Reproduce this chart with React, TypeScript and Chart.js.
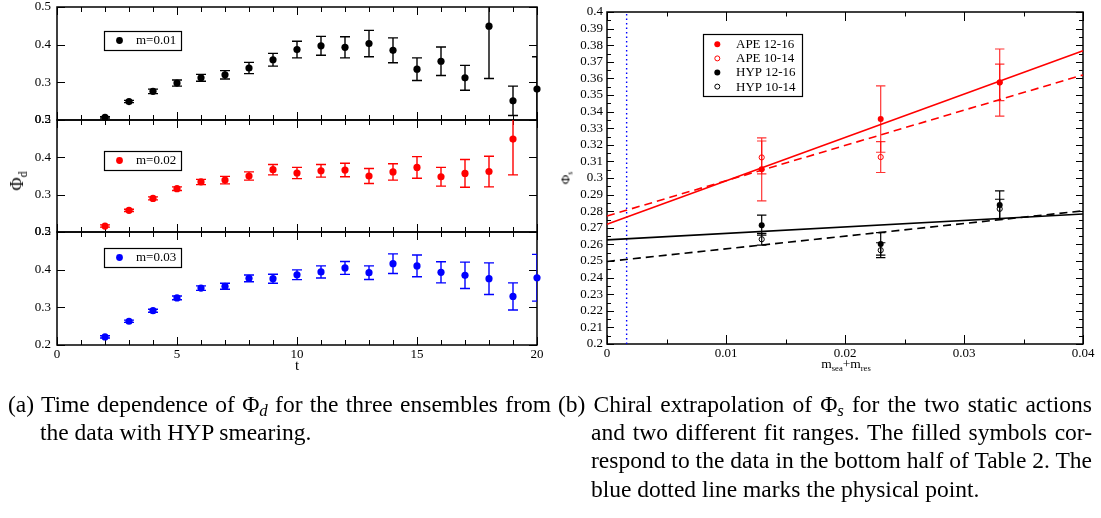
import React, { useEffect, useRef } from "react";
import { Chart, registerables } from "chart.js";

Chart.register(...registerables);

const SERIF = '"Liberation Serif", "Times New Roman", Times, serif';

// ---------------- panel (a): Phi_d vs t ----------------
const T_VALUES = [2, 3, 4, 5, 6, 7, 8, 9, 10, 11, 12, 13, 14, 15, 16, 17, 18, 19, 20];
const PHI_M001 = [0.207, 0.249, 0.276, 0.298, 0.312, 0.32, 0.338, 0.36, 0.387, 0.397, 0.393, 0.403, 0.385, 0.335, 0.356, 0.312, 0.449, 0.251, 0.282];
const ERR_M001 = [0.002, 0.003, 0.006, 0.008, 0.009, 0.011, 0.015, 0.017, 0.022, 0.025, 0.028, 0.035, 0.033, 0.03, 0.038, 0.033, 0.139, 0.039, 0.086];
const PHI_M002 = [0.216, 0.258, 0.29, 0.316, 0.334, 0.339, 0.35, 0.367, 0.358, 0.364, 0.366, 0.35, 0.361, 0.373, 0.348, 0.357, 0.362, 0.449, null];
const ERR_M002 = [0.003, 0.003, 0.004, 0.005, 0.007, 0.01, 0.011, 0.014, 0.015, 0.017, 0.018, 0.02, 0.022, 0.029, 0.025, 0.037, 0.041, 0.096, null];
const PHI_M003 = [0.2215, 0.263, 0.291, 0.325, 0.351, 0.356, 0.377, 0.376, 0.3865, 0.394, 0.4045, 0.392, 0.416, 0.41, 0.393, 0.385, 0.376, 0.329, 0.3785];
const ERR_M003 = [0.003, 0.003, 0.004, 0.005, 0.006, 0.008, 0.009, 0.012, 0.013, 0.016, 0.017, 0.018, 0.026, 0.029, 0.028, 0.035, 0.042, 0.036, 0.062];
const ENSEMBLE_LABELS = ["m=0.01", "m=0.02", "m=0.03"];
const ENSEMBLE_COLORS = ["#000000", "#ff0000", "#0000ff"];
const T_AXIS_TICKS = [0, 5, 10, 15, 20];
const PHI_D_TICKS = [0.2, 0.3, 0.4, 0.5];

// ---------------- panel (b): chiral extrapolation ----------------
const MASS_VALUES = [0.013, 0.023, 0.033];
const APE_12_16 = [0.3052, 0.3355, 0.3575];
const APE_12_16_ERR = [0.019, 0.02, 0.0202];
const APE_10_14 = [0.3124, 0.3126, 0.3576];
const APE_10_14_ERR = [0.0099, 0.0093, 0.011];
const HYP_12_16 = [0.2716, 0.2603, 0.2838];
const HYP_12_16_ERR = [0.006, 0.0068, 0.0085];
const HYP_10_14 = [0.2631, 0.2565, 0.2814];
const HYP_10_14_ERR = [0.0035, 0.0045, 0.0058];
const FIT_MASS = [0, 0.04];
const FIT_APE_12_16 = [0.2722, 0.3766];
const FIT_APE_10_14 = [0.2771, 0.3621];
const FIT_HYP_12_16 = [0.2627, 0.2783];
const FIT_HYP_10_14 = [0.2497, 0.2802];
const PHYSICAL_MASS = 0.00165;
const PHI_S_RANGE = [0.2, 0.4];
const SERIES_LABELS_B = ["APE 12-16", "APE 10-14", "HYP 12-16", "HYP 10-14"];
const MASS_AXIS_TICKS = [0, 0.01, 0.02, 0.03, 0.04];
const PHI_S_TICKS = [0.2, 0.21, 0.22, 0.23, 0.24, 0.25, 0.26, 0.27, 0.28, 0.29, 0.3, 0.31, 0.32, 0.33, 0.34, 0.35, 0.36, 0.37, 0.38, 0.39, 0.4];

// ---------------- helpers ----------------
function minorValues(min: number, max: number, step: number, majors: number[]) {
  const out: number[] = [];
  const n = Math.round((max - min) / step);
  for (let i = 0; i <= n; i++) {
    const v = min + i * step;
    if (!majors.some((m) => Math.abs(m - v) < step * 1e-3)) out.push(v);
  }
  return out;
}

function framePlugin(cfg: any) {
  return {
    id: "frameTicks",
    beforeDatasetsDraw(chart: any) {
      const { ctx, chartArea: a } = chart;
      const xs = chart.scales.x;
      const ys = chart.scales.y;
      ctx.save();
      ctx.strokeStyle = "#000";
      ctx.lineWidth = 1;
      ctx.beginPath();
      const tx = (v: number, len: number) => {
        const p = Math.round(xs.getPixelForValue(v)) + 0.5;
        ctx.moveTo(p, a.top);
        ctx.lineTo(p, a.top + len);
        ctx.moveTo(p, a.bottom);
        ctx.lineTo(p, a.bottom - len);
      };
      const ty = (v: number, len: number) => {
        const p = Math.round(ys.getPixelForValue(v)) + 0.5;
        ctx.moveTo(a.left, p);
        ctx.lineTo(a.left + len, p);
        ctx.moveTo(a.right, p);
        ctx.lineTo(a.right - len, p);
      };
      cfg.xMajor.forEach((v: number) => tx(v, cfg.xMajorLen));
      cfg.xMinor.forEach((v: number) => tx(v, cfg.xMinorLen));
      cfg.yMajor.forEach((v: number) => ty(v, cfg.yMajorLen));
      cfg.yMinor.forEach((v: number) => ty(v, cfg.yMinorLen));
      ctx.stroke();
      ctx.lineWidth = cfg.frameWidth;
      ctx.strokeRect(a.left, a.top, a.right - a.left, a.bottom - a.top);
      ctx.restore();
    },
  };
}

const errorBarPlugin = {
  id: "errorBars",
  beforeDatasetsDraw(chart: any) {
    const { ctx, chartArea: a } = chart;
    const xs = chart.scales.x;
    const ys = chart.scales.y;
    ctx.save();
    ctx.beginPath();
    ctx.rect(a.left, a.top, a.right - a.left, a.bottom - a.top);
    ctx.clip();
    chart.data.datasets.forEach((ds: any) => {
      if (!ds.errors) return;
      ctx.strokeStyle = ds.errColor || ds.borderColor;
      ctx.lineWidth = ds.errWidth || 1.2;
      const cap = ds.capHalf || 5;
      ds.data.forEach((p: any, j: number) => {
        const e = ds.errors[j];
        if (e == null) return;
        const x = xs.getPixelForValue(p.x);
        const y1 = ys.getPixelForValue(p.y + e);
        const y2 = ys.getPixelForValue(p.y - e);
        ctx.beginPath();
        ctx.moveTo(x, y1);
        ctx.lineTo(x, y2);
        ctx.moveTo(x - cap, y1);
        ctx.lineTo(x + cap, y1);
        ctx.moveTo(x - cap, y2);
        ctx.lineTo(x + cap, y2);
        ctx.stroke();
      });
    });
    ctx.restore();
  },
};

function legendPlugin(box: { dx: number; dy: number; w: number; h: number; rowH: number; row0: number; markX: number; textX: number; r: number }) {
  return {
    id: "boxLegend",
    afterDatasetsDraw(chart: any) {
      const { ctx, chartArea: a } = chart;
      const items = chart.data.datasets.filter((d: any) => d.marker);
      const x0 = a.left + box.dx;
      const y0 = a.top + box.dy;
      ctx.save();
      ctx.fillStyle = "#fff";
      ctx.fillRect(x0, y0, box.w, box.h);
      ctx.strokeStyle = "#000";
      ctx.lineWidth = 1.2;
      ctx.strokeRect(x0 + 0.5, y0 + 0.5, box.w, box.h);
      ctx.font = `13px ${SERIF}`;
      ctx.textBaseline = "middle";
      items.forEach((d: any, i: number) => {
        const cy = y0 + box.row0 + i * box.rowH;
        const cx = x0 + box.markX;
        ctx.beginPath();
        ctx.arc(cx, cy, d.marker === "open" ? box.r - 0.5 : box.r, 0, Math.PI * 2);
        if (d.marker === "open") {
          ctx.strokeStyle = d.borderColor;
          ctx.lineWidth = 1;
          ctx.stroke();
        } else {
          ctx.fillStyle = d.borderColor;
          ctx.fill();
        }
        ctx.fillStyle = "#000";
        ctx.fillText(d.label, x0 + box.textX, cy + 0.5);
      });
      ctx.restore();
    },
  };
}

const PHI_SERIES = [PHI_M001, PHI_M002, PHI_M003];
const ERR_SERIES = [ERR_M001, ERR_M002, ERR_M003];
const LEGEND_TOPS = [24, 31, 16];

function leftConfig(idx: number): any {
  const ys = PHI_SERIES[idx];
  const es = ERR_SERIES[idx];
  const pts: any[] = [];
  const errs: number[] = [];
  T_VALUES.forEach((t, i) => {
    if (ys[i] != null) {
      pts.push({ x: t, y: ys[i] });
      errs.push(es[i] as number);
    }
  });
  const last = idx === 2;
  const color = ENSEMBLE_COLORS[idx];
  const tickFont = { family: SERIF, size: 13, lineHeight: 1 };
  return {
    type: "scatter",
    data: {
      datasets: [
        {
          label: ENSEMBLE_LABELS[idx],
          data: pts,
          errors: errs,
          capHalf: 5,
          errWidth: 1.4,
          pointRadius: 3.6,
          pointHoverRadius: 3.6,
          pointBorderWidth: 0,
          backgroundColor: color,
          borderColor: color,
          clip: false,
          marker: "filled",
        },
      ],
    },
    options: {
      responsive: false,
      animation: false,
      events: [],
      layout: { padding: { left: 0, right: 23, top: 20, bottom: 0 } },
      plugins: { legend: { display: false }, tooltip: { enabled: false } },
      scales: {
        x: {
          type: "linear",
          min: 0,
          max: 20,
          afterBuildTicks: (s: any) => {
            s.ticks = T_AXIS_TICKS.map((v) => ({ value: v }));
          },
          afterFit: (s: any) => {
            s.height = last ? 35 : 20;
          },
          grid: { display: false, drawTicks: false },
          border: { display: false },
          ticks: { display: last, autoSkip: false, maxRotation: 0, padding: 3, color: "#000", font: tickFont, callback: (v: any) => String(v) },
          title: { display: last, text: "t", color: "#000", font: { family: SERIF, size: 15, lineHeight: 1 }, padding: { top: 0, bottom: 6 } },
        },
        y: {
          type: "linear",
          min: 0.2,
          max: 0.5,
          afterBuildTicks: (s: any) => {
            s.ticks = PHI_D_TICKS.map((v) => ({ value: v }));
          },
          afterFit: (s: any) => {
            s.width = 57;
          },
          grid: { display: false, drawTicks: false },
          border: { display: false },
          ticks: { autoSkip: false, padding: 6, color: "#000", font: tickFont, callback: (v: any) => Number(v).toFixed(1) },
        },
      },
    },
    plugins: [
      framePlugin({
        xMajor: T_AXIS_TICKS,
        xMinor: minorValues(0, 20, 1, T_AXIS_TICKS),
        yMajor: PHI_D_TICKS,
        yMinor: [],
        xMajorLen: 8,
        xMinorLen: 5,
        yMajorLen: 8,
        yMinorLen: 4,
        frameWidth: 1.5,
      }),
      errorBarPlugin,
      legendPlugin({ dx: 47, dy: LEGEND_TOPS[idx], w: 77, h: 19, rowH: 0, row0: 9.5, markX: 15.5, textX: 32, r: 3.4 }),
    ],
  };
}

function pts(xs: number[], ys: number[]) {
  return xs.map((x, i) => ({ x, y: ys[i] }));
}

function rightConfig(): any {
  const tickFont = { family: SERIF, size: 13, lineHeight: 1 };
  const fit = (ys: number[], color: string, dashed: boolean) => ({
    data: pts(FIT_MASS, ys),
    showLine: true,
    tension: 0,
    borderColor: color,
    borderWidth: 1.6,
    borderDash: dashed ? [8, 5] : [],
    pointRadius: 0,
    clip: false,
  });
  const marks = (label: string, ys: number[], errs: number[], color: string, open: boolean) => ({
    label,
    data: pts(MASS_VALUES, ys),
    errors: errs,
    capHalf: 4.7,
    errWidth: 1.2,
    errColor: color === "#ff0000" ? "rgba(255,0,0,0.8)" : "#000",
    pointRadius: open ? 2.6 : 3,
    pointHoverRadius: open ? 2.6 : 3,
    pointBorderWidth: open ? 1 : 0,
    pointBackgroundColor: open ? "rgba(255,255,255,0)" : color,
    backgroundColor: open ? "rgba(255,255,255,0)" : color,
    borderColor: color,
    clip: false,
    marker: open ? "open" : "filled",
  });
  return {
    type: "scatter",
    data: {
      datasets: [
        fit(FIT_APE_12_16, "#ff0000", false),
        fit(FIT_APE_10_14, "#ff0000", true),
        fit(FIT_HYP_12_16, "#000000", false),
        fit(FIT_HYP_10_14, "#000000", true),
        {
          data: [
            { x: PHYSICAL_MASS, y: PHI_S_RANGE[0] },
            { x: PHYSICAL_MASS, y: PHI_S_RANGE[1] },
          ],
          showLine: true,
          borderColor: "#0000ff",
          borderWidth: 1.4,
          borderDash: [1.5, 3],
          pointRadius: 0,
        },
        marks(SERIES_LABELS_B[0], APE_12_16, APE_12_16_ERR, "#ff0000", false),
        marks(SERIES_LABELS_B[1], APE_10_14, APE_10_14_ERR, "#ff0000", true),
        marks(SERIES_LABELS_B[2], HYP_12_16, HYP_12_16_ERR, "#000000", false),
        marks(SERIES_LABELS_B[3], HYP_10_14, HYP_10_14_ERR, "#000000", true),
      ],
    },
    options: {
      responsive: false,
      animation: false,
      events: [],
      layout: { padding: { left: 0, right: 18, top: 20, bottom: 0 } },
      plugins: { legend: { display: false }, tooltip: { enabled: false } },
      scales: {
        x: {
          type: "linear",
          min: MASS_AXIS_TICKS[0],
          max: MASS_AXIS_TICKS[MASS_AXIS_TICKS.length - 1],
          afterBuildTicks: (s: any) => {
            s.ticks = MASS_AXIS_TICKS.map((v) => ({ value: v }));
          },
          afterFit: (s: any) => {
            s.height = 36;
          },
          grid: { display: false, drawTicks: false },
          border: { display: false },
          ticks: { autoSkip: false, maxRotation: 0, padding: 3.5, color: "#000", font: tickFont, callback: (v: any) => String(Number(Number(v).toFixed(3))) },
        },
        y: {
          type: "linear",
          min: PHI_S_RANGE[0],
          max: PHI_S_RANGE[1],
          afterBuildTicks: (s: any) => {
            s.ticks = PHI_S_TICKS.map((v) => ({ value: v }));
          },
          afterFit: (s: any) => {
            s.width = 47;
          },
          grid: { display: false, drawTicks: false },
          border: { display: false },
          ticks: { autoSkip: false, padding: 4, color: "#000", font: tickFont, callback: (v: any) => String(Number(Number(v).toFixed(3))) },
        },
      },
    },
    plugins: [
      framePlugin({
        xMajor: MASS_AXIS_TICKS,
        xMinor: minorValues(0, 0.04, 0.005, MASS_AXIS_TICKS),
        yMajor: PHI_S_TICKS,
        yMinor: minorValues(0.2, 0.4, 0.005, PHI_S_TICKS),
        xMajorLen: 9,
        xMinorLen: 4.5,
        yMajorLen: 7,
        yMinorLen: 4,
        frameWidth: 1.5,
      }),
      errorBarPlugin,
      legendPlugin({ dx: 96, dy: 22, w: 99, h: 62, rowH: 14.1, row0: 10.3, markX: 14.3, textX: 33, r: 3 }),
    ],
  };
}

function ChartCanvas({ left, top, width, height, make }: { left: number; top: number; width: number; height: number; make: () => any }) {
  const ref = useRef<HTMLCanvasElement>(null);
  useEffect(() => {
    const chart = new Chart(ref.current as HTMLCanvasElement, make());
    return () => chart.destroy();
  }, []);
  return <canvas ref={ref} width={width} height={height} style={{ position: "absolute", left, top, width, height }} />;
}

const CAP_FONT = 23.5;
const CAP_LH = 28.2;
const CAP_TOP = 390;

function CapLine({ left, width, row, justify, children }: any) {
  return (
    <div
      style={{
        position: "absolute",
        left,
        top: CAP_TOP + row * CAP_LH,
        width,
        fontFamily: SERIF,
        fontSize: CAP_FONT,
        lineHeight: `${CAP_LH}px`,
        whiteSpace: "nowrap",
        textAlign: justify ? "justify" : "left",
        textAlignLast: justify ? "justify" : "left",
        color: "#000",
      } as any}
    >
      {children}
    </div>
  );
}

const sub = (t: string) => (
  <i style={{ fontSize: "0.72em", position: "relative", top: "0.22em" }}>{t}</i>
);

export default function App() {
  return (
    <div style={{ position: "absolute", left: 0, top: 0, width: 1101, height: 518, overflow: "hidden", background: "#fff" }}>
      <ChartCanvas left={0} top={-13} width={560} height={153} make={() => leftConfig(0)} />
      <ChartCanvas left={0} top={100} width={560} height={152} make={() => leftConfig(1)} />
      <ChartCanvas left={0} top={212} width={560} height={168} make={() => leftConfig(2)} />
      <ChartCanvas left={560} top={-8} width={541} height={388} make={rightConfig} />

      <div
        style={{
          position: "absolute",
          left: 17,
          top: 181,
          transform: "translate(-50%,-50%) rotate(-90deg)",
          fontFamily: SERIF,
          fontSize: 18,
          lineHeight: 1,
          whiteSpace: "nowrap",
        }}
      >
        Φ<span style={{ fontSize: 12, position: "relative", top: 4 }}>d</span>
      </div>

      <div
        style={{
          position: "absolute",
          left: 565,
          top: 178,
          transform: "translate(-50%,-50%) rotate(-90deg)",
          fontFamily: SERIF,
          fontSize: 13,
          lineHeight: 1,
          whiteSpace: "nowrap",
        }}
      >
        Φ<span style={{ fontSize: 8, position: "relative", top: 3 }}>s</span>
      </div>

      <div
        style={{
          position: "absolute",
          left: 846,
          top: 357,
          transform: "translateX(-50%)",
          fontFamily: SERIF,
          fontSize: 13.5,
          lineHeight: 1,
          whiteSpace: "nowrap",
        }}
      >
        m<span style={{ fontSize: 8.5, position: "relative", top: 3 }}>sea</span>+m<span style={{ fontSize: 8.5, position: "relative", top: 3 }}>res</span>
      </div>

      <CapLine left={8} width={543} row={0} justify>
        (a) Time dependence of Φ{sub("d")} for the three ensembles from
      </CapLine>
      <CapLine left={40} width={511} row={1}>
        the data with HYP smearing.
      </CapLine>

      <CapLine left={558} width={534} row={0} justify>
        (b) Chiral extrapolation of Φ{sub("s")} for the two static actions
      </CapLine>
      <CapLine left={591} width={501} row={1} justify>
        and two different fit ranges. The filled symbols cor-
      </CapLine>
      <CapLine left={591} width={501} row={2} justify>
        respond to the data in the bottom half of Table 2. The
      </CapLine>
      <CapLine left={591} width={501} row={3}>
        blue dotted line marks the physical point.
      </CapLine>
    </div>
  );
}
